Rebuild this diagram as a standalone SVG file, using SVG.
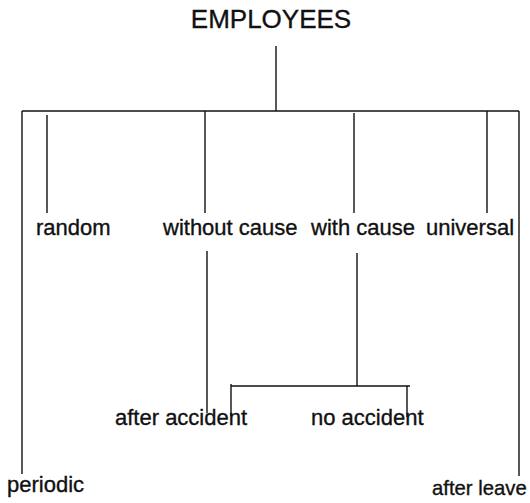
<svg xmlns="http://www.w3.org/2000/svg" width="530" height="503" viewBox="0 0 530 503">
<style>
text{font-family:"Liberation Sans",Arial,sans-serif;font-size:22px;fill:#111;stroke:#111;stroke-width:0.35}
.title{font-size:26px}
line{stroke:#111;stroke-width:1.4;fill:none}
</style>
<rect width="530" height="503" fill="#fff"/>
<g id="connectors">
<line x1="276" y1="46" x2="276" y2="111"/>
<line x1="22" y1="111" x2="519" y2="111"/>
<line x1="22" y1="111" x2="22" y2="474"/>
<line x1="519" y1="111" x2="519" y2="476"/>
<line x1="47" y1="115" x2="47" y2="213"/>
<line x1="205" y1="111" x2="205" y2="213"/>
<line x1="354" y1="113" x2="354" y2="213"/>
<line x1="487" y1="111" x2="487" y2="213"/>
<line x1="207" y1="251" x2="207" y2="413"/>
<line x1="357" y1="253" x2="357" y2="386"/>
<line x1="231" y1="386" x2="410" y2="386"/>
<line x1="231" y1="384" x2="231" y2="416"/>
<line x1="407" y1="386" x2="407" y2="417"/>
</g>
<g id="employees"><text class="title" x="271" y="28" text-anchor="middle">EMPLOYEES</text></g>
<g id="random"><text x="36" y="235">random</text></g>
<g id="without-cause"><text x="163" y="235">without cause</text></g>
<g id="with-cause"><text x="311" y="235">with cause</text></g>
<g id="universal"><text x="426" y="235">universal</text></g>
<g id="after-accident"><text x="115" y="425">after accident</text></g>
<g id="no-accident"><text x="311" y="425">no accident</text></g>
<g id="periodic"><text x="7" y="492">periodic</text></g>
<g id="after-leave"><text x="432" y="495" style="font-size:20.3px">after leave</text></g>
</svg>
